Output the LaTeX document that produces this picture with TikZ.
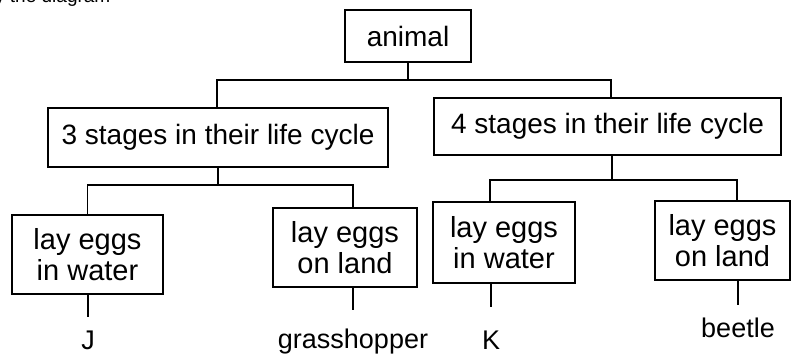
\documentclass[tikz,border=0pt]{standalone}
\usepackage{fontspec}
\setmainfont{Liberation Sans}
\begin{document}
\begin{tikzpicture}[x=1pt,y=-1pt,
  box/.style={draw, line width=1.5pt, inner sep=0pt, align=center, font=\fontsize{28}{31}\selectfont},
  eggbox/.style={box, font=\fontsize{29}{31}\selectfont},
  leaf/.style={inner sep=0pt, anchor=base, text height=20pt, text depth=0pt, font=\fontsize{27}{31}\selectfont},
  conn/.style={line width=1.4pt}]
\useasboundingbox (0,0) rectangle (791,355);
\begin{scope}
\clip (0,0) rectangle (791,355);
\node[anchor=base west, inner sep=0pt] (hdr) at (-5,3) {\fontsize{19}{22}\selectfont y the diagram};
\end{scope}

% boxes
\node[box, minimum width=126, minimum height=52] (animal) at (408,36) {animal};
\node[box, minimum width=340, minimum height=59] (s3) at (218,137.5) {3 stages in their life cycle};
\node[box, minimum width=347, minimum height=57] (s4) at (607.5,126.5) {4 stages in their life cycle};
\node[eggbox, minimum width=151, minimum height=79] (LL) at (87.5,254.5) {lay eggs\\in water};
\node[eggbox, minimum width=144, minimum height=79] (LR) at (345,247.5) {lay eggs\\on land};
\node[eggbox, minimum width=142, minimum height=81] (RL) at (504,242.5) {lay eggs\\in water};
\node[eggbox, minimum width=135, minimum height=79] (RR) at (722.5,240.5) {lay eggs\\on land};

% leaves
\node[leaf] (J) at (88,349) {J};
\node[leaf] (gh) at (353,348.5) {grasshopper};
\node[leaf] (K) at (491,349) {K};
\node[leaf] (bt) at (738,337) {beetle};

% connectors level 1
\coordinate (t1) at (408,80);
\draw[conn] (animal.south) -- (t1);
\draw[conn] ([xshift=-1pt]s3.north) |- (t1) -| ([xshift=3.5pt]s4.north);

% connectors level 2
\coordinate (t2) at (218,185);
\draw[conn] (s3.south) -- (t2);
\draw[conn] (LL.north) |- (t2) -| ([xshift=8pt]LR.north);
\coordinate (t3) at (612,180);
\draw[conn] ([xshift=4.5pt]s4.south) -- (t3);
\draw[conn] ([xshift=-14pt]RL.north) |- (t3) -| ([xshift=14.5pt]RR.north);

% connectors to leaves
\draw[conn, shorten >=12pt] (J.north |- LL.south) -- (J.north);
\draw[conn, shorten >=18.5pt] (gh.north |- LR.south) -- (gh.north);
\draw[conn, shorten >=22pt] (K.north |- RL.south) -- (K.north);
\draw[conn, shorten >=12pt] (bt.north |- RR.south) -- (bt.north);
\end{tikzpicture}
\end{document}
